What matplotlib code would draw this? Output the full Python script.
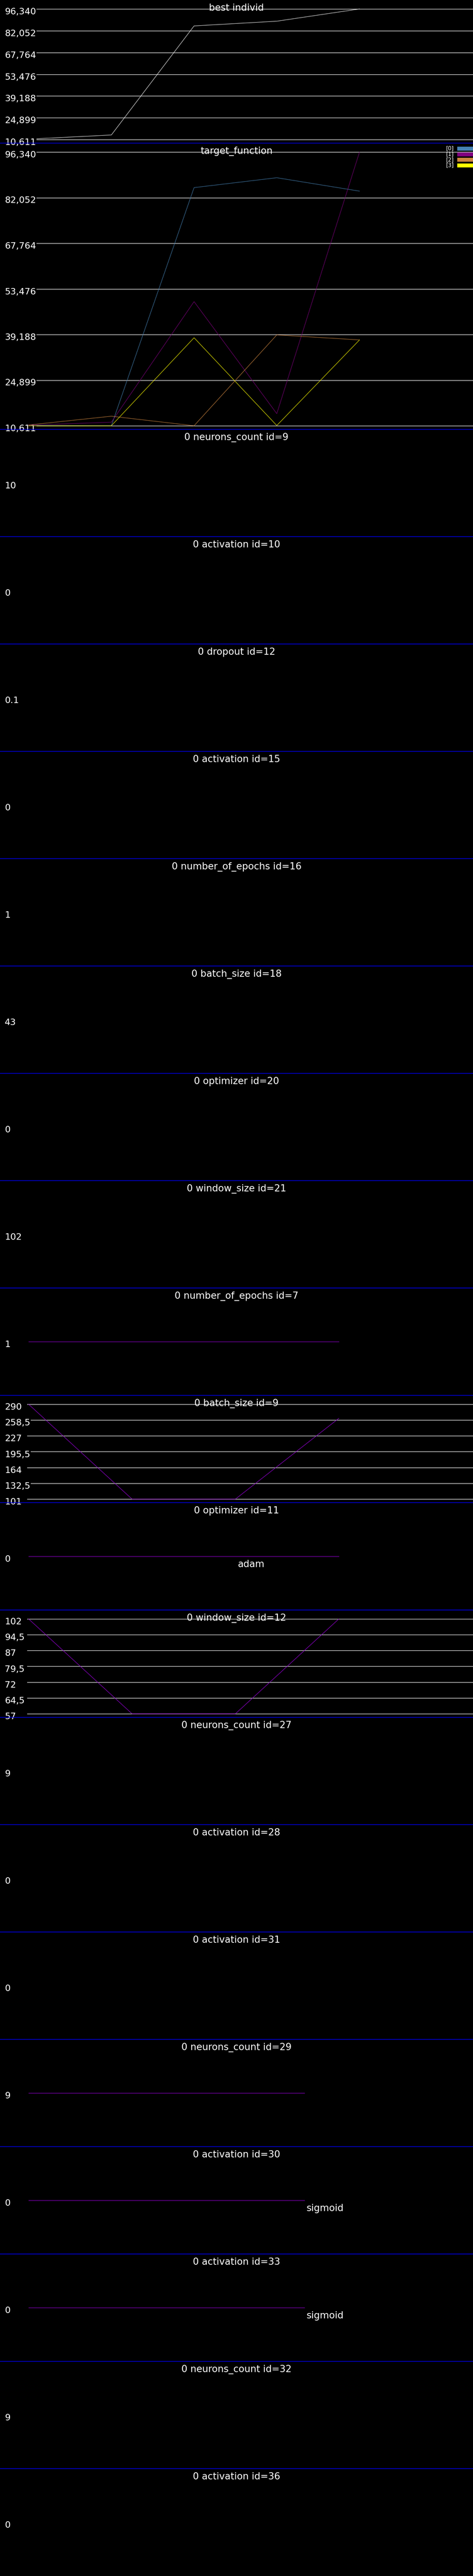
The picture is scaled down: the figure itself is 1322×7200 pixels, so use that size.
import numpy as np
import matplotlib.pyplot as plt
from matplotlib.transforms import blended_transform_factory, ScaledTranslation
from matplotlib.lines import Line2D
from matplotlib.patches import Rectangle

W, H, DPI = 1322, 7200, 100

# target function per individual, 5 generations
tf_0 = [10.70, 10.6114, 85.20, 88.30, 84.10]
tf_1 = [10.80, 11.73, 49.50, 14.40, 96.3399]
tf_2 = [10.85, 13.60, 10.6114, 39.07, 37.50]
tf_3 = [10.6114, 10.6114, 38.18, 10.69, 37.50]
tf_names = ['[0]', '[1]', '[2]', '[3]']
tf_colors = ['steelblue', 'purple', 'peru', 'yellow']
best_individ = [10.85, 13.60, 85.20, 88.30, 96.3399]

param_titles = [
    '0 neurons_count id=9', '0 activation id=10', '0 dropout id=12',
    '0 activation id=15', '0 number_of_epochs id=16', '0 batch_size id=18',
    '0 optimizer id=20', '0 window_size id=21', '0 number_of_epochs id=7',
    '0 batch_size id=9', '0 optimizer id=11', '0 window_size id=12',
    '0 neurons_count id=27', '0 activation id=28', '0 activation id=31',
    '0 neurons_count id=29', '0 activation id=30', '0 activation id=33',
    '0 neurons_count id=32', '0 activation id=36',
]
param_values = [
    [10], [0], [0.1], [0], [1], [43], [0], [102], [1, 1, 1, 1],
    [290, 101, 101, 262], [0, 0, 0, 0], [102, 57, 57, 102],
    [9], [0], [0], [9, 9, 9], [0, 0, 0], [0, 0, 0], [9], [0],
]
param_notes = ['', '', '', '', '', '', '', '', '', '', 'adam', '',
               '', '', '', '', 'sigmoid', 'sigmoid', '', '']

LEFT, SPAN = 80, 1156
TOP_PAD, BOT_PAD = 25, 10

fig = plt.figure(figsize=(W / DPI, H / DPI), dpi=DPI, facecolor='black')
FONT = 'DejaVu Sans'


def make_ax(top, h, n):
    ax = fig.add_axes([0, 1 - (top + h) / H, 1, h / H])
    ax.set_facecolor('black')
    ax.set_axis_off()
    a = -LEFT * n / SPAN
    ax.set_xlim(a, a + W * n / SPAN)
    if top > 0:
        fig.add_artist(Line2D([0, 1], [1 - top / H] * 2, transform=fig.transFigure,
                              color='#0000ff', lw=1.2))
    return ax


def title(ax, h, s):
    ax.text(0.5, 1 - 30 / h, s, transform=ax.transAxes, ha='center', va='baseline',
            color='white', fontsize=19, family=FONT, zorder=6)


def tick(ax, v, s):
    tr = blended_transform_factory(ax.transAxes, ax.transData) + \
        ScaledTranslation(0, -15 / DPI, fig.dpi_scale_trans)
    ax.text(13 / W, v, s, transform=tr, ha='left', va='baseline', color='white',
            fontsize=18, family=FONT, zorder=3,
            bbox=dict(boxstyle='square,pad=0.05', fc='black', ec='none'))


def range_axis(ax, h, lo, hi, labels):
    k = (hi - lo) / (h - TOP_PAD - BOT_PAD)
    ax.set_ylim(lo - BOT_PAD * k, hi + TOP_PAD * k)
    for v, s in zip(np.linspace(lo, hi, 7), labels):
        ax.axhline(v, xmin=76 / W, xmax=1, color='white', lw=1.0, zorder=1)
        tick(ax, v, s)


tf_all = np.array([tf_0, tf_1, tf_2, tf_3])
lo, hi = tf_all.min(), tf_all.max()
tf_labels = [f'{v:.3f}'.replace('.', ',') for v in np.linspace(lo, hi, 7)]

# best individ
ax = make_ax(0, 400, len(best_individ))
range_axis(ax, 400, lo, hi, tf_labels)
ax.plot(range(len(best_individ)), best_individ, color='white', lw=0.8, zorder=2)
title(ax, 400, 'best individ')

# target function
ax = make_ax(400, 800, tf_all.shape[1])
range_axis(ax, 800, lo, hi, tf_labels)
for row, c in zip(tf_all, tf_colors):
    ax.plot(range(len(row)), row, color=c, lw=0.8, zorder=4)
title(ax, 800, 'target_function')
for i, (name, c) in enumerate(zip(tf_names, tf_colors)):
    yc = 1 - (415.5 + i * 15.7) / H
    fig.text(1268 / W, yc, name, ha='right', va='center', color='white',
             fontsize=11, family=FONT)
    fig.add_artist(Rectangle((1278 / W, yc - 5.5 / H), 50 / W, 11 / H,
                             transform=fig.transFigure, fc=c, ec='none'))

# parameter panels
top = 1200
for t, vals, note in zip(param_titles, param_values, param_notes):
    h = 300
    n = len(vals)
    ax = make_ax(top, h, n)
    vmin, vmax = min(vals), max(vals)
    if vmin == vmax:
        ax.set_ylim(vmin - 1, vmin + 1)
        tick(ax, vmin, str(vmin))
    else:
        labs = [f'{v:g}'.replace('.', ',') for v in np.linspace(vmin, vmax, 7)]
        range_axis(ax, h, vmin, vmax, labs)
    if n > 1:
        ax.plot(range(n), vals, color='darkviolet', lw=0.9, zorder=2)
    if note and n > 2:
        tr = ax.transData + ScaledTranslation(6 / DPI, -10 / DPI, fig.dpi_scale_trans)
        ax.text(2, vals[2], note, transform=tr, ha='left', va='top', color='white',
                fontsize=19, family=FONT)
    title(ax, h, t)
    top += h

fig.savefig('out.png', dpi=DPI, facecolor='black')
